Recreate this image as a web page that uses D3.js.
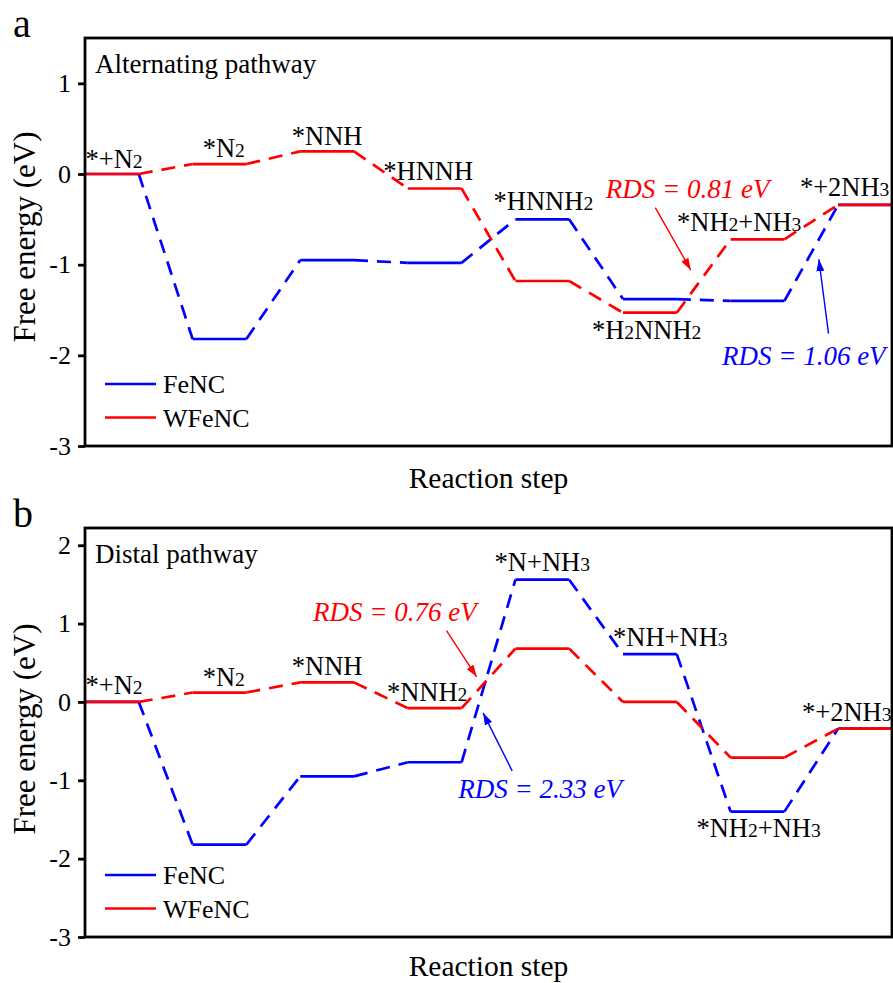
<!DOCTYPE html>
<html>
<head>
<meta charset="utf-8">
<script src="https://cdn.jsdelivr.net/npm/d3@7"></script>
<style>
  body { margin: 0; background: #fff; }
  svg text { font-family: "Liberation Serif", "Times New Roman", serif; fill: #000; }
</style>
</head>
<body>
<svg id="chart" width="893" height="983"></svg>
<script>
// ---- data (free energy in eV for each reaction state) ----
var altSteps = ["*+N_2", "*N_2", "*NNH", "*HNNH", "*HNNH_2", "*H_2NNH_2", "*NH_2+NH_3", "*+2NH_3"];
var altFeNC = [0, -1.82, -0.95, -0.98, -0.50, -1.38, -1.40, -0.34];
var altWFeNC = [0, 0.11, 0.25, -0.16, -1.18, -1.53, -0.72, -0.34];

var disSteps = ["*+N_2", "*N_2", "*NNH", "*NNH_2", "*N+NH_3", "*NH+NH_3", "*NH_2+NH_3", "*+2NH_3"];
var disFeNC = [0, -1.82, -0.95, -0.77, 1.56, 0.61, -1.40, -0.34];
var disWFeNC = [0, 0.12, 0.25, -0.08, 0.68, 0.00, -0.71, -0.34];

var altTicks = [-3, -2, -1, 0, 1];
var disTicks = [-3, -2, -1, 0, 1, 2];

var seriesNames = ["FeNC", "WFeNC"];
var seriesColors = ["#0000ff", "#ff0000"];

var svg = d3.select("#chart");

// arrow heads for the RDS annotations
var defs = svg.append("defs");
seriesColors.forEach(function(c, i) {
  defs.append("marker")
    .attr("id", "arrow" + i)
    .attr("markerUnits", "userSpaceOnUse")
    .attr("viewBox", "0 0 12 8")
    .attr("refX", 12).attr("refY", 4)
    .attr("markerWidth", 12).attr("markerHeight", 8)
    .attr("orient", "auto")
    .append("path")
    .attr("d", "M0,0 L12,4 L0,8 Z")
    .attr("fill", c);
});

// writes "*NH_2" style strings with small digits
function richText(sel, str) {
  str.split(/(_\d)/).forEach(function(part) {
    if (part.charAt(0) === "_") sel.append("tspan").attr("font-size", "0.74em").text(part.slice(1));
    else if (part) sel.append("tspan").text(part);
  });
}

function drawPanel(p) {
  var x = d3.scaleLinear().domain([0, 7.5]).range([85, 892]);
  var y = d3.scaleLinear().domain(p.domain).range([p.bottom, p.top]);
  var g = svg.append("g");

  // energy levels + dashed connectors (blue first, red on top)
  p.series.forEach(function(vals, k) {
    var col = seriesColors[k];
    g.selectAll(null)
      .data(vals.slice(1))
      .enter().append("line")
      .attr("x1", function(d, i) { return x(i + 0.5); })
      .attr("y1", function(d, i) { return y(vals[i]); })
      .attr("x2", function(d, i) { return x(i + 1); })
      .attr("y2", function(d) { return y(d); })
      .attr("stroke", col)
      .attr("stroke-width", 2.7)
      .attr("stroke-dasharray", "14,9");
    g.selectAll(null)
      .data(vals)
      .enter().append("line")
      .attr("x1", function(d, i) { return x(i); })
      .attr("x2", function(d, i) { return x(i + 0.5); })
      .attr("y1", function(d) { return y(d); })
      .attr("y2", function(d) { return y(d); })
      .attr("stroke", col)
      .attr("stroke-width", 2.7);
  });

  // frame
  g.append("rect")
    .attr("x", x(0)).attr("y", p.top)
    .attr("width", x(7.5) - x(0)).attr("height", p.bottom - p.top)
    .attr("fill", "none").attr("stroke", "#000").attr("stroke-width", 2.8);

  // y axis
  var ax = g.append("g")
    .attr("transform", "translate(" + x(0) + ",0)")
    .call(d3.axisLeft(y).tickValues(p.ticks).tickSize(7).tickPadding(7)
      .tickFormat(function(d) { return String(d); }));
  ax.select(".domain").remove();
  ax.selectAll("line").attr("stroke", "#000").attr("stroke-width", 2.8);
  ax.selectAll("text").attr("font-size", "26px").attr("fill", "#000")
    .style("font-family", "'Liberation Serif', serif");

  // state labels
  p.steps.forEach(function(s, i) {
    var t = g.append("text")
      .attr("x", x(p.labelPos[i][0]))
      .attr("y", y(p.labelPos[i][1]))
      .attr("text-anchor", "middle")
      .attr("font-size", "26.5px");
    richText(t, s);
  });

  // RDS annotations
  p.rds.forEach(function(r) {
    g.append("text")
      .attr("x", x(r.tx)).attr("y", y(r.ty))
      .attr("text-anchor", "middle")
      .attr("font-size", "27px")
      .attr("font-style", "italic")
      .style("fill", seriesColors[r.s])
      .text("RDS = " + r.value.toFixed(2) + " eV");
    g.append("line")
      .attr("x1", x(r.ax1)).attr("y1", y(r.ay1))
      .attr("x2", x(r.ax2)).attr("y2", y(r.ay2))
      .attr("stroke", seriesColors[r.s])
      .attr("stroke-width", 1.4)
      .attr("marker-end", "url(#arrow" + r.s + ")");
  });

  // pathway name
  g.append("text")
    .attr("x", x(0) + 10).attr("y", p.top + 35)
    .attr("font-size", "27px")
    .text(p.title);

  // legend
  seriesNames.forEach(function(n, k) {
    var ly = p.bottom - 62 + k * 33.5;
    g.append("line")
      .attr("x1", x(0) + 20).attr("x2", x(0) + 71)
      .attr("y1", ly).attr("y2", ly)
      .attr("stroke", seriesColors[k]).attr("stroke-width", 2.7);
    g.append("text")
      .attr("x", x(0) + 78).attr("y", ly + 9)
      .attr("font-size", "26px")
      .text(n);
  });

  // axis titles
  g.append("text")
    .attr("x", (x(0) + x(7.5)) / 2).attr("y", p.bottom + p.xTitleGap)
    .attr("text-anchor", "middle")
    .attr("font-size", "29.5px")
    .text("Reaction step");
  g.append("text")
    .attr("transform", "translate(35," + p.yTitle + ") rotate(-90)")
    .attr("text-anchor", "middle")
    .attr("font-size", "31px")
    .text("Free energy (eV)");

  // panel letter
  svg.append("text")
    .attr("x", 13).attr("y", p.top - 1)
    .attr("font-size", "40px")
    .text(p.letter);
}

drawPanel({
  letter: "a",
  title: "Alternating pathway",
  top: 38, bottom: 446, domain: [-3, 1.5], yTitle: 237, xTitleGap: 42,
  ticks: altTicks,
  series: [altFeNC, altWFeNC],
  steps: altSteps,
  labelPos: [[0.27, 0.07], [1.29, 0.19], [2.25, 0.32], [3.19, -0.07], [4.26, -0.40], [5.22, -1.82], [6.08, -0.63], [7.06, -0.24]],
  rds: [
    { s: 1, value: 0.81, tx: 5.60, ty: -0.26, ax1: 5.30, ay1: -0.37, ax2: 5.63, ay2: -1.06 },
    { s: 0, value: 1.06, tx: 6.68, ty: -2.11, ax1: 6.91, ay1: -1.76, ax2: 6.82, ay2: -0.94 }
  ]
});

drawPanel({
  letter: "b",
  title: "Distal pathway",
  top: 528, bottom: 937, domain: [-3, 2.22], yTitle: 729, xTitleGap: 39,
  ticks: disTicks,
  series: [disFeNC, disWFeNC],
  steps: disSteps,
  labelPos: [[0.27, 0.10], [1.29, 0.20], [2.25, 0.34], [3.18, 0.01], [4.25, 1.67], [5.44, 0.71], [6.26, -1.72], [7.08, -0.24]],
  rds: [
    { s: 1, value: 0.76, tx: 2.88, ty: 1.03, ax1: 3.36, ay1: 0.91, ax2: 3.64, ay2: 0.32 },
    { s: 0, value: 2.33, tx: 4.23, ty: -1.22, ax1: 3.97, ay1: -0.88, ax2: 3.70, ay2: -0.14 }
  ]
});
</script>
</body>
</html>
